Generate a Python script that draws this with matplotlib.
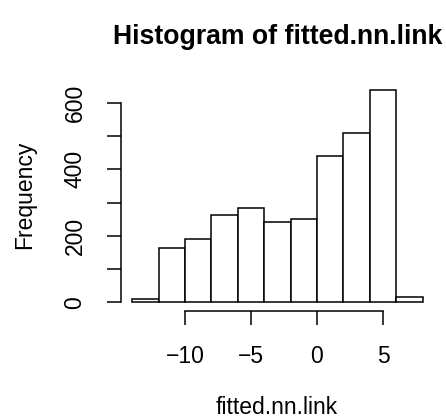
import numpy as np
import matplotlib
matplotlib.use("Agg")
from matplotlib import pyplot as plt

# histogram of fitted.nn.link, bin edges and counts
bin_edges = [-14, -12, -10, -8, -6, -4, -2, 0, 2, 4, 6, 8]
counts = [9, 162, 191, 261, 283, 242, 250, 440, 510, 638, 17]
x_ticks = [-10, -5, 0, 5]
y_ticks = [0, 100, 200, 300, 400, 500, 600]
y_labels = ["0", "", "200", "", "400", "", "600"]

plt.rcParams['font.family'] = ['Liberation Sans', 'DejaVu Sans']

W, H = 446, 419
fig = plt.figure(figsize=(W/100, H/100), dpi=100)
ax = fig.add_axes([120.6/W, 1-310.8/H, (434.2-120.6)/W, (310.8-81.6)/H])

edges = np.array(bin_edges)
ax.bar(edges[:-1], counts, width=np.diff(edges), align='edge',
       facecolor='white', edgecolor='black', linewidth=1.1)

# R style: 4% padding and axis lines only as long as the ticks
xr = edges[-1] - edges[0]
ax.set_xlim(edges[0] - 0.04*xr, edges[-1] + 0.04*xr)
ax.set_ylim(-0.04*max(counts), max(counts)*1.04)

for s in ['top', 'right']:
    ax.spines[s].set_visible(False)
ax.spines['bottom'].set_bounds(x_ticks[0], x_ticks[-1])
ax.spines['left'].set_bounds(y_ticks[0], y_ticks[-1])
for s in ['bottom', 'left']:
    ax.spines[s].set_linewidth(1.1)

ax.set_xticks(x_ticks)
ax.set_xticklabels(["\u2212%d" % -t if t < 0 else str(t) for t in x_ticks])
ax.set_yticks(y_ticks)
ax.set_yticklabels(y_labels, rotation=90, va='center')
ax.tick_params(axis='x', length=10, width=1.1, pad=14.5, labelsize=16.5)
ax.tick_params(axis='y', length=10, width=1.1, pad=14.5, labelsize=16.5)

fig.text(277/W, 1-407/H, "fitted.nn.link", ha='center', va='center', fontsize=16.5)
fig.text(24.5/W, 1-195/H, "Frequency", ha='center', va='center', rotation=90, fontsize=16.5)
fig.text(278/W, 1-37/H, "Histogram of fitted.nn.link", ha='center', va='center',
         fontsize=19.2, fontweight='bold')

fig.savefig("out.png", dpi=100)
